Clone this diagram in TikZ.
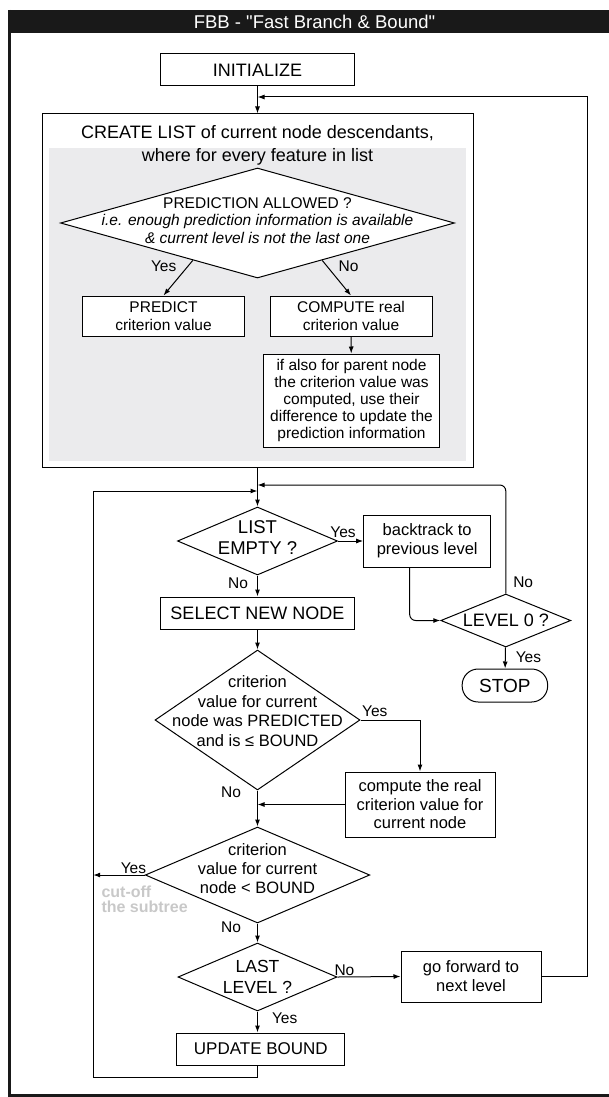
\documentclass[tikz,border=0pt]{standalone}
\usepackage{fontspec}
\setmainfont{Liberation Sans}
\newfontfamily\titlefont{Liberation Sans}[Ligatures=ResetAll]
\usepackage{tikz}
\usetikzlibrary{
    arrows.meta,
    shapes.geometric
}
\definecolor{panelgray}{RGB}{235,235,237}
\definecolor{cutgray}{RGB}{200,200,200}

\begin{document}
\begin{tikzpicture}[
        x=1pt, y=-1pt,
        >={Latex[length=7pt,width=5pt]},
        line width=1pt,
        box/.style={
            draw,
            fill=white,
            align=center,
            inner sep=0pt,
            font=\fontsize{16.5}{19}\selectfont
        },
        bigbox/.style={
            box,
            font=\fontsize{18}{21}\selectfont
        },
        decision/.style={
            diamond,
            draw,
            fill=white,
            inner sep=0pt
        },
        txt/.style={
            align=center,
            inner sep=0pt,
            font=\fontsize{16.5}{19.5}\selectfont
        },
        lbl/.style={
            inner sep=1pt,
            font=\fontsize{15.5}{17}\selectfont
        }
    ]
    \useasboundingbox (0,0) rectangle (609,1097);

    % frame and title
    \fill[black!90] (8,10) rectangle (625,33);
    \draw[line width=3pt, black!90] (9.5,10) -- (9.5,1095.8) -- (625,1095.8);
    \node[font=\titlefont\fontsize{18.5}{20}\selectfont, text=white] (title) at (314.5,21.5)
        {FBB - "Fast Branch \& Bound"};

    % start and list creation
    \node[bigbox, minimum width=194, minimum height=32] (init) at (257.5,70) {INITIALIZE};
    \node[draw, minimum width=431, minimum height=353] (create) at (257.5,290.5) {};
    \fill[panelgray] (48.5,148) rectangle (466,461);
    \node[txt, font=\fontsize{18}{21}\selectfont] (ctitle) at (257.5,133)
        {CREATE LIST of current node descendants,};
    \node[txt, font=\fontsize{18}{21}\selectfont] (cwhere) at (257.5,157)
        {where for every feature in list};

    \node[decision, minimum width=394, minimum height=110] (allow) at (257.5,223) {};
    \node[txt, font=\fontsize{15.5}{17.5}\selectfont] (allowtxt) at (257.5,220.5)
        {PREDICTION ALLOWED ?\\
         \itshape i.e. enough prediction information is available\\
         \itshape \& current level is not the last one};
    \node[box, minimum width=162, minimum height=40, font=\fontsize{15.5}{18}\selectfont]
        (predict) at (163.5,316) {PREDICT\\criterion value};
    \node[box, minimum width=162, minimum height=40, font=\fontsize{15.5}{18}\selectfont]
        (compute) at (351,316) {COMPUTE real\\criterion value};
    \node[box, minimum width=176, minimum height=93, font=\fontsize{15.5}{17}\selectfont]
        (info) at (351.5,400.5)
        {if also for parent node\\the criterion value was\\computed, use their\\
         difference to update the\\prediction information};

    \draw[->] (allow.210) -- node[lbl, left, pos=.17, xshift=-10] {Yes} (predict.north);
    \draw[->] (allow.330) -- node[lbl, right, pos=.17, xshift=10] {No} (compute.north);
    \draw[->] (compute) -- (info);

    % search loop
    \coordinate (m1) at (257.5,97);
    \coordinate (m2) at (257.5,485);
    \coordinate (m3) at (257.5,491);
    \coordinate (lft) at (93.2,491);

    \node[decision, minimum width=160, minimum height=68] (empty) at (257.5,541) {};
    \node[txt, font=\fontsize{18.5}{21}\selectfont] (emptytxt) at (257.5,537.5) {LIST\\EMPTY ?};
    \node[box, minimum width=127, minimum height=52] (back) at (427.2,541)
        {backtrack to\\previous level};
    \node[decision, minimum width=130, minimum height=53] (level) at (505.8,620.5) {};
    \node[txt, font=\fontsize{18}{21}\selectfont] (leveltxt) at (505.8,620) {LEVEL 0 ?};
    \node[draw, rounded corners=16, minimum width=85.5, minimum height=33,
        inner sep=0pt, font=\fontsize{19}{22}\selectfont] (stop) at (504.9,685.5) {STOP};
    \node[bigbox, minimum width=194, minimum height=32] (select) at (257.5,613) {SELECT NEW NODE};

    \node[decision, minimum width=205, minimum height=140] (pred) at (257.5,720) {};
    \node[txt] (predtxt) at (257.5,711)
        {criterion\\value for current\\node was PREDICTED\\and is ≤ BOUND};
    \node[box, minimum width=150, minimum height=65, font=\fontsize{16.5}{18.5}\selectfont]
        (real) at (420,804.5) {compute the real\\criterion value for\\current node};

    \node[decision, minimum width=224.5, minimum height=96] (cut) at (257.5,875) {};
    \node[txt, font=\fontsize{16.5}{19}\selectfont] (cuttxt) at (257.5,869)
        {criterion\\value for current\\node < BOUND};
    \node[font=\bfseries\fontsize{16}{15}\selectfont, text=cutgray, align=left,
        inner sep=0pt, anchor=west] (cutoff) at (101,899.5) {cut-off\\the subtree};

    \node[decision, minimum width=159, minimum height=68] (last) at (257.5,977) {};
    \node[txt, font=\fontsize{17.5}{21}\selectfont] (lasttxt) at (257.5,977) {LAST\\LEVEL ?};
    \node[box, minimum width=140, minimum height=51] (forward) at (471,976.5)
        {go forward to\\next level};
    \node[box, minimum width=168, minimum height=32, font=\fontsize{17}{20}\selectfont]
        (update) at (260.8,1049) {UPDATE BOUND};

    \draw[->] (init) -- (create);
    \draw[->] (forward.east) -- ++(46.2,0) |- (m1);
    \draw[->] (create) -- (empty);
    \draw[->] (empty) -- node[lbl, above, pos=.2, yshift=2] {Yes} (back);
    \draw[->] (empty) -- node[lbl, left, pos=.36, xshift=-8] {No} (select);
    \draw[->, rounded corners=6] ([xshift=-17.5]back.south) |- (level.west);
    \draw[->, rounded corners=6] (level.north) |- node[lbl, right, pos=.05, xshift=6] {No} (m2);
    \draw[->] (level) -- node[lbl, right, pos=.45, xshift=9] {Yes} (stop);
    \draw[->] (select) -- (pred);
    \draw[->] (pred.east) -| node[lbl, above, pos=.12, yshift=2] {Yes} (real.north);
    \draw[->] (real.west) -- (real.west -| pred);
    \draw[->] (pred) -- node[lbl, left, pos=.06, xshift=-15] {No} (cut);
    \draw[->] (cut.west) -- node[lbl, above, pos=.22] {Yes} (cut.west -| lft);
    \draw[->] (cut) -- node[lbl, left, pos=.2, xshift=-15] {No} (last);
    \draw[->] (last.east) -- node[lbl, above, pos=.11] {No} (forward.west);
    \draw[->] (last) -- node[lbl, right, pos=.32, xshift=13] {Yes} (last |- update.north);
    \draw[->] (last |- update.south) -- ++(0,12) -| (lft) -- (m3);
\end{tikzpicture}
\end{document}
